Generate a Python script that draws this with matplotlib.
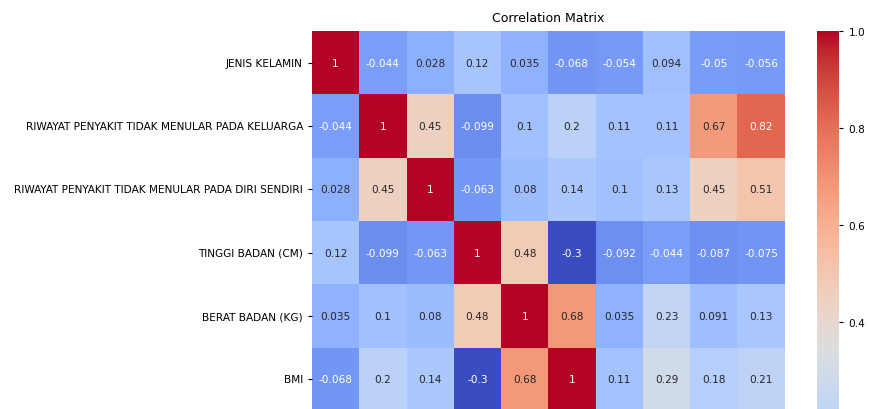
import numpy as np
import matplotlib
matplotlib.use("Agg")
import matplotlib.pyplot as plt
import seaborn as sns

# visible part of the correlation matrix (6 rows x 10 columns)
rows = ["JENIS KELAMIN",
        "RIWAYAT PENYAKIT TIDAK MENULAR PADA KELUARGA",
        "RIWAYAT PENYAKIT TIDAK MENULAR PADA DIRI SENDIRI",
        "TINGGI BADAN (CM)",
        "BERAT BADAN (KG)",
        "BMI"]
jenis_kelamin = [1, -0.044, 0.028, 0.12, 0.035, -0.068, -0.054, 0.094, -0.05, -0.056]
riwayat_keluarga = [-0.044, 1, 0.45, -0.099, 0.1, 0.2, 0.11, 0.11, 0.67, 0.82]
riwayat_diri = [0.028, 0.45, 1, -0.063, 0.08, 0.14, 0.1, 0.13, 0.45, 0.51]
tinggi_badan = [0.12, -0.099, -0.063, 1, 0.48, -0.3, -0.092, -0.044, -0.087, -0.075]
berat_badan = [0.035, 0.1, 0.08, 0.48, 1, 0.68, 0.035, 0.23, 0.091, 0.13]
bmi = [-0.068, 0.2, 0.14, -0.3, 0.68, 1, 0.11, 0.29, 0.18, 0.21]

corr = np.array([jenis_kelamin, riwayat_keluarga, riwayat_diri,
                 tinggi_badan, berat_badan, bmi])

fig = plt.figure(figsize=(8.69, 4.10), dpi=100)
# heatmap axes: the full chart is taller than the picture, so only the
# top part shows
ax = fig.add_axes([0.359, -0.005, 0.544, 0.927])
cax = fig.add_axes([0.940, -0.615, 0.026, 1.537])

sns.heatmap(corr, annot=True, cmap="coolwarm", vmin=-0.3, vmax=1.0,
            ax=ax, cbar_ax=cax, yticklabels=rows, xticklabels=False,
            annot_kws={"fontsize": 7.6})
ax.tick_params(axis="y", labelsize=7.6, length=3, width=0.8)
ax.set_yticklabels(rows, rotation=0)
ax.set_title("Correlation Matrix", fontsize=9, pad=7)

cax.set_yticks([0.4, 0.6, 0.8, 1.0])
cax.tick_params(labelsize=7.6, length=3, width=0.8)

fig.savefig("out.png", dpi=100)
